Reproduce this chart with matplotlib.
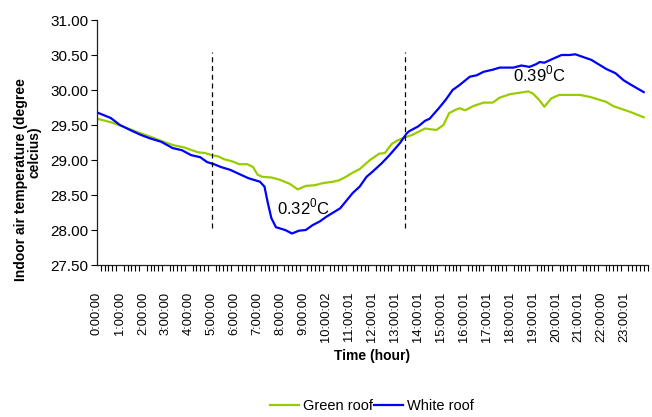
import matplotlib
matplotlib.use("Agg")
import matplotlib.pyplot as plt
from matplotlib import font_manager
from matplotlib.lines import Line2D

names = {f.name for f in font_manager.fontManager.ttflist}
BASE = "Liberation Sans" if "Liberation Sans" in names else "DejaVu Sans"
NARROW = "Liberation Sans Narrow" if "Liberation Sans Narrow" in names else BASE
plt.rcParams["font.family"] = [BASE, "DejaVu Sans"]
plt.rcParams["mathtext.fontset"] = "custom"
plt.rcParams["mathtext.rm"] = BASE

# ---- data (hours, degC) ----
white_h = [0.0, 0.6, 1.0, 1.5, 1.9, 2.3, 2.8, 3.3, 3.7, 4.1, 4.5, 4.8, 5.1, 5.4, 5.8,
           6.2, 6.6, 7.1, 7.3, 7.45, 7.6, 7.8, 8.2, 8.5, 8.8, 9.1, 9.4, 9.7, 10.0,
           10.3, 10.6, 10.85, 11.15, 11.45, 11.75, 12.0, 12.4, 12.75, 13.2, 13.5,
           13.6, 14.0, 14.3, 14.5, 14.9, 15.2, 15.5, 15.8, 16.25, 16.55, 16.85,
           17.25, 17.55, 18.15, 18.5, 18.85, 19.15, 19.3, 19.5, 19.9, 20.25, 20.6,
           20.85, 21.2, 21.55, 21.9, 22.2, 22.6, 22.95, 23.3, 23.83]
white_t = [29.68, 29.60, 29.50, 29.42, 29.36, 29.31, 29.26, 29.17, 29.14, 29.07, 29.04,
           28.97, 28.94, 28.90, 28.86, 28.80, 28.74, 28.69, 28.62, 28.38, 28.17, 28.04,
           28.00, 27.95, 27.99, 28.00, 28.07, 28.12, 28.19, 28.25, 28.31, 28.41, 28.53,
           28.62, 28.76, 28.83, 28.95, 29.07, 29.24, 29.38, 29.41, 29.48, 29.56, 29.59,
           29.74, 29.86, 30.00, 30.07, 30.19, 30.21, 30.26, 30.29, 30.32, 30.32, 30.35,
           30.33, 30.37, 30.40, 30.39, 30.45, 30.50, 30.50, 30.51, 30.47, 30.43, 30.36,
           30.30, 30.24, 30.14, 30.07, 29.97]

green_h = [0.0, 0.6, 1.2, 1.75, 2.35, 2.9, 3.35, 3.8, 4.4, 4.7, 5.0, 5.3, 5.55, 5.9,
           6.2, 6.55, 6.8, 7.0, 7.2, 7.6, 7.95, 8.4, 8.75, 9.1, 9.5, 9.85, 10.3, 10.55,
           10.85, 11.15, 11.45, 11.9, 12.3, 12.55, 12.85, 13.1, 13.4, 13.75, 14.3, 14.5,
           14.8, 15.1, 15.35, 15.65, 15.8, 16.05, 16.4, 16.85, 17.25, 17.55, 18.0, 18.4,
           18.8, 19.0, 19.27, 19.5, 19.8, 20.15, 21.05, 21.5, 21.8, 22.2, 22.5, 22.95,
           23.3, 23.83]
green_t = [29.59, 29.54, 29.47, 29.40, 29.33, 29.26, 29.21, 29.18, 29.11, 29.10, 29.07,
           29.05, 29.01, 28.98, 28.94, 28.94, 28.90, 28.79, 28.76, 28.75, 28.72, 28.66,
           28.58, 28.63, 28.64, 28.67, 28.69, 28.71, 28.76, 28.82, 28.87, 29.00, 29.09,
           29.10, 29.23, 29.28, 29.32, 29.36, 29.45, 29.44, 29.43, 29.50, 29.67, 29.72,
           29.74, 29.71, 29.77, 29.82, 29.82, 29.89, 29.94, 29.96, 29.98, 29.95, 29.86,
           29.76, 29.88, 29.93, 29.93, 29.90, 29.87, 29.83, 29.77, 29.72, 29.68, 29.61]

tick_labels = ["0:00:00", "1:00:00", "2:00:00", "3:00:00", "4:00:00", "5:00:00",
               "6:00:00", "7:00:00", "8:00:00", "9:00:00", "10:00:02", "11:00:01",
               "12:00:01", "13:00:01", "14:00:01", "15:00:01", "16:00:01", "17:00:01",
               "18:00:01", "19:00:01", "20:00:01", "21:00:01", "22:00:00", "23:00:01"]
y_ticks = [27.5, 28.0, 28.5, 29.0, 29.5, 30.0, 30.5, 31.0]
dash_h = [5.0, 13.44]
dash_range = (28.03, 30.54)
annotations = [("0.32", 7.86, 28.23), ("0.39", 18.12, 30.12)]

GREEN = "#99CC00"
BLUE = "#0000FF"

fig = plt.figure(figsize=(6.52, 4.17), dpi=100)
ax = fig.add_axes([97 / 652, 1 - 265 / 417, (647.6 - 97) / 652, (265 - 20) / 417])

ax.plot(green_h, green_t, color=GREEN, lw=1.6, label="Green roof")
ax.plot(white_h, white_t, color=BLUE, lw=1.6, label="White roof")

for h in dash_h:
    ax.plot([h, h], list(dash_range), color="black", lw=0.9, ls=(0, (4, 3)))

for txt, h, t in annotations:
    ax.text(h, t, txt + r"$^{\mathrm{0}}$C", fontsize=12, va="baseline", ha="left")

ax.set_xlim(0, 24)
ax.set_ylim(27.5, 31.0)
ax.set_yticks(y_ticks)
ax.set_yticklabels([f"{v:.2f}" for v in y_ticks], fontsize=11)
ax.set_xticks(list(range(24)))
ax.set_xticklabels(tick_labels, rotation=90, fontsize=9.3)
ax.set_xticks([i / 6 for i in range(24 * 6 + 1)], minor=True)
ax.tick_params(axis="x", which="major", length=0, pad=19)
ax.tick_params(axis="x", which="minor", length=4, width=0.8, direction="out")
ax.tick_params(axis="y", length=4, width=0.8, direction="out", pad=2)
for s in ["top", "right"]:
    ax.spines[s].set_visible(False)
for s in ["left", "bottom"]:
    ax.spines[s].set_linewidth(0.9)
    ax.spines[s].set_color("#202020")

fig.text(372 / 652, 1 - 356 / 417, "Time (hour)", ha="center", va="center",
         fontsize=10, fontweight="bold")
fig.text(21 / 652, 1 - 180 / 417, "Indoor air temperature (degree",
         rotation=90, ha="center", va="center", fontsize=10, fontweight="bold",
         family=[NARROW, "DejaVu Sans"])
fig.text(35 / 652, 1 - 152 / 417, "celcius)",
         rotation=90, ha="center", va="center", fontsize=10, fontweight="bold",
         family=[NARROW, "DejaVu Sans"])

handles = [Line2D([], [], color=GREEN, lw=1.6), Line2D([], [], color=BLUE, lw=1.6)]
fig.legend(handles, ["Green roof", "White roof"], loc="center",
           bbox_to_anchor=(372 / 652, 1 - 406 / 417), ncol=2, frameon=False,
           fontsize=10.5, handlelength=2.0, handletextpad=0.25, columnspacing=0.1,
           borderpad=0)

fig.savefig("out.png", dpi=100)
